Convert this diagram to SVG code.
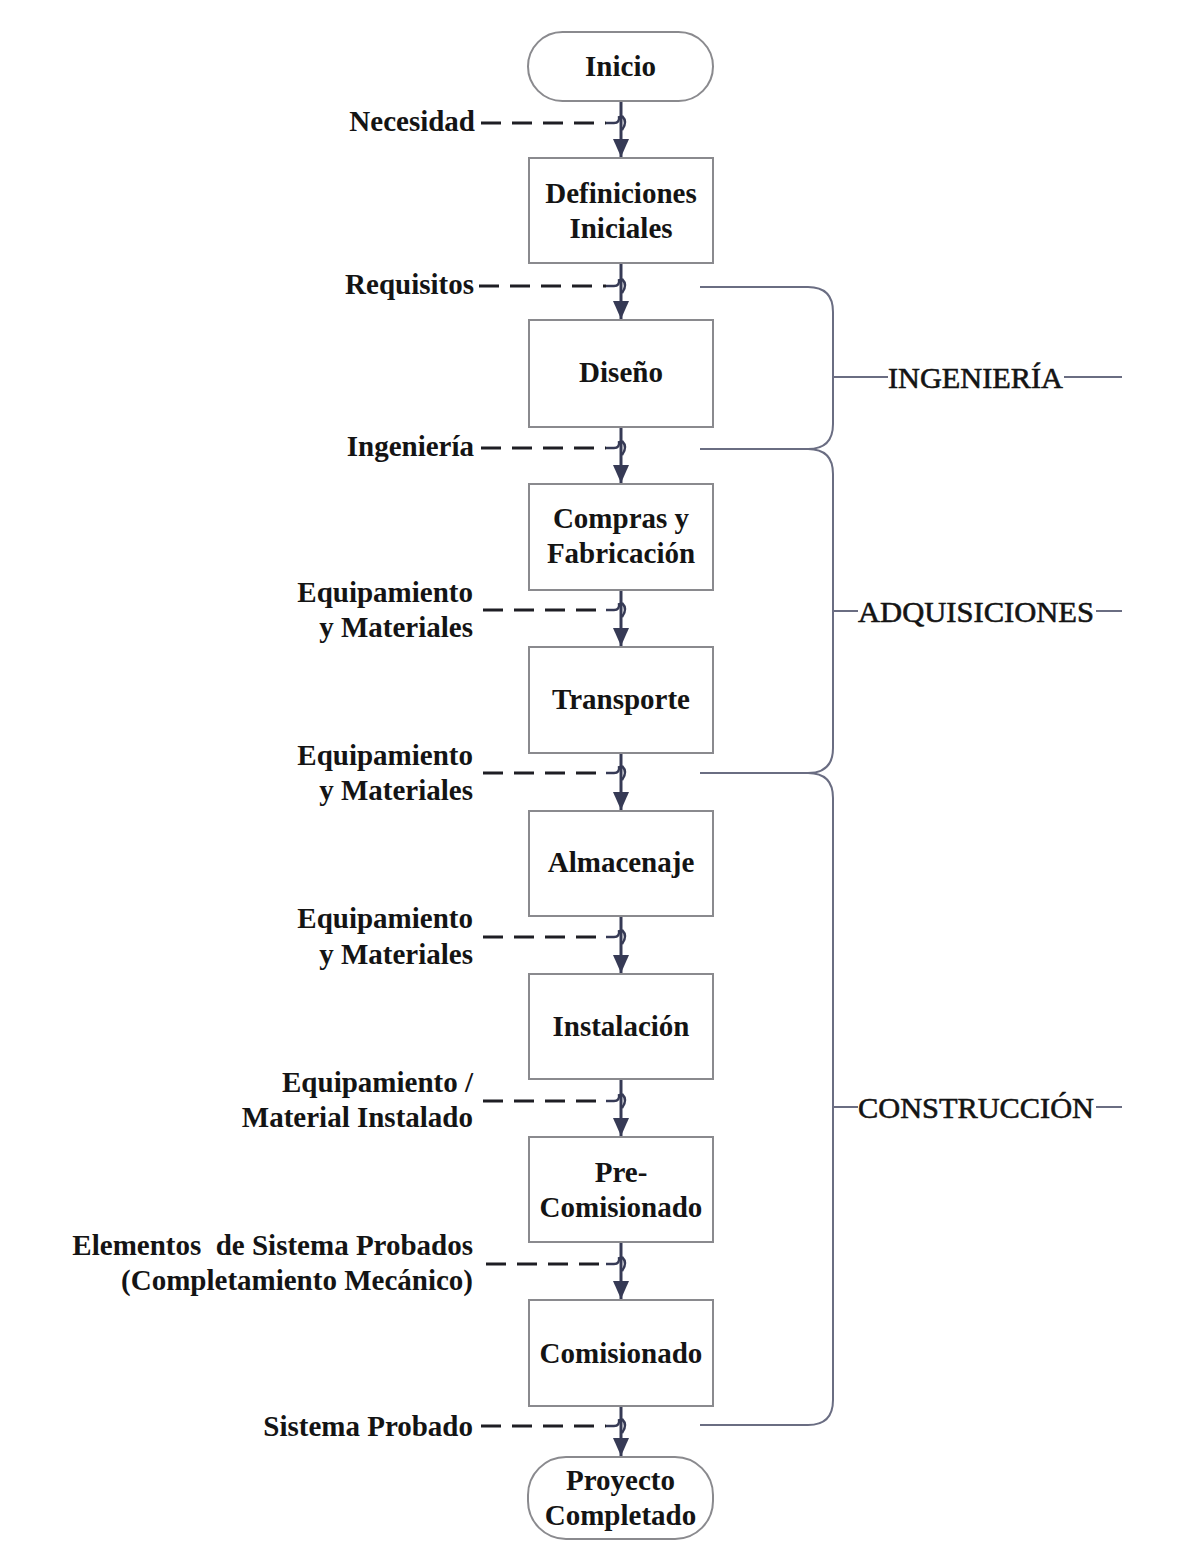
<svg xmlns="http://www.w3.org/2000/svg" width="1181" height="1541" viewBox="0 0 1181 1541">
<style>
.box{fill:#fff;stroke:#8a8a8e;stroke-width:2}
.t{font-family:"Liberation Serif","Times New Roman",serif;font-weight:bold;font-size:29px;fill:#141414;text-anchor:middle}
.l{font-family:"Liberation Serif","Times New Roman",serif;font-weight:bold;font-size:29px;fill:#141414;text-anchor:end}
.p{font-family:"Liberation Serif","Times New Roman",serif;font-size:30px;fill:#141414;stroke:#141414;stroke-width:0.6}
.flow{stroke:#363a55;stroke-width:3;fill:none}
.dash{stroke:#1e1e24;stroke-width:3;stroke-dasharray:20 11;fill:none}
.hook{stroke:#363a55;stroke-width:2.5;fill:none}
.br{stroke:#6a6d82;stroke-width:2;fill:none}
</style>
<defs>
<marker id="ah" markerWidth="18" markerHeight="16" refX="18" refY="8" orient="auto" markerUnits="userSpaceOnUse" viewBox="0 0 18 16">
<path d="M0,0 L18,8 L0,16 Z" fill="#363a55"/>
</marker>
</defs>
<rect width="1181" height="1541" fill="#fff"/>

<g id="connectors">
<path class="flow" d="M621,101 V157" marker-end="url(#ah)"/>
<path class="flow" d="M621,263 V319" marker-end="url(#ah)"/>
<path class="flow" d="M621,427 V483" marker-end="url(#ah)"/>
<path class="flow" d="M621,590 V646" marker-end="url(#ah)"/>
<path class="flow" d="M621,753 V810" marker-end="url(#ah)"/>
<path class="flow" d="M621,916 V973" marker-end="url(#ah)"/>
<path class="flow" d="M621,1079 V1136" marker-end="url(#ah)"/>
<path class="flow" d="M621,1242 V1299" marker-end="url(#ah)"/>
<path class="flow" d="M621,1406 V1456" marker-end="url(#ah)"/>
<g id="dashed-inputs">
<path class="dash" d="M481,123 H606"/>
<path class="dash" d="M479,286 H606"/>
<path class="dash" d="M481,448 H606"/>
<path class="dash" d="M483,610 H606"/>
<path class="dash" d="M483,773 H606"/>
<path class="dash" d="M483,937 H606"/>
<path class="dash" d="M483,1101 H606"/>
<path class="dash" d="M486,1264 H606"/>
<path class="dash" d="M481,1426 H606"/>
</g>
<g id="hooks">
<path class="hook" d="M606,123 H614 Q620,123 619,116 M622,116 Q628,122 622,130"/>
<path class="hook" d="M606,286 H614 Q620,286 619,279 M622,279 Q628,285 622,293"/>
<path class="hook" d="M606,448 H614 Q620,448 619,441 M622,441 Q628,447 622,455"/>
<path class="hook" d="M606,610 H614 Q620,610 619,603 M622,603 Q628,609 622,617"/>
<path class="hook" d="M606,773 H614 Q620,773 619,766 M622,766 Q628,772 622,780"/>
<path class="hook" d="M606,937 H614 Q620,937 619,930 M622,930 Q628,936 622,944"/>
<path class="hook" d="M606,1101 H614 Q620,1101 619,1094 M622,1094 Q628,1100 622,1108"/>
<path class="hook" d="M606,1264 H614 Q620,1264 619,1257 M622,1257 Q628,1263 622,1271"/>
<path class="hook" d="M606,1426 H614 Q620,1426 619,1419 M622,1419 Q628,1425 622,1433"/>
</g>
<g id="brackets">
<path class="br" d="M700,287 H808 Q833,287 833,312 V424 Q833,449 808,449 H700"/>
<path class="br" d="M808,449 Q833,449 833,474 V748 Q833,773 808,773"/>
<path class="br" d="M700,773 H808 Q833,773 833,798 V1400 Q833,1425 808,1425 H700"/>
<path class="br" d="M833,377 H888 M1064,377 H1122"/>
<path class="br" d="M833,611 H858 M1096,611 H1122"/>
<path class="br" d="M833,1107 H858 M1096,1107 H1122"/>
</g>
</g>

<g id="n-inicio"><rect class="box" x="528" y="32" width="185" height="69" rx="34.5"/><text class="t" x="620.5" y="76">Inicio</text></g>
<g id="n-definiciones"><rect class="box" x="529" y="158" width="184" height="105"/><text class="t" x="621" y="203">Definiciones</text><text class="t" x="621" y="238">Iniciales</text></g>
<g id="n-diseno"><rect class="box" x="529" y="320" width="184" height="107"/><text class="t" x="621" y="382">Diseño</text></g>
<g id="n-compras"><rect class="box" x="529" y="484" width="184" height="106"/><text class="t" x="621" y="528">Compras y</text><text class="t" x="621" y="563">Fabricación</text></g>
<g id="n-transporte"><rect class="box" x="529" y="647" width="184" height="106"/><text class="t" x="621" y="709">Transporte</text></g>
<g id="n-almacenaje"><rect class="box" x="529" y="811" width="184" height="105"/><text class="t" x="621" y="872">Almacenaje</text></g>
<g id="n-instalacion"><rect class="box" x="529" y="974" width="184" height="105"/><text class="t" x="621" y="1036">Instalación</text></g>
<g id="n-precomisionado"><rect class="box" x="529" y="1137" width="184" height="105"/><text class="t" x="621" y="1182">Pre-</text><text class="t" x="621" y="1217">Comisionado</text></g>
<g id="n-comisionado"><rect class="box" x="529" y="1300" width="184" height="106"/><text class="t" x="621" y="1363">Comisionado</text></g>
<g id="n-proyecto"><rect class="box" x="528" y="1457" width="185" height="82" rx="38"/><text class="t" x="620.5" y="1490">Proyecto</text><text class="t" x="620.5" y="1525">Completado</text></g>

<g id="input-labels">
<text class="l" x="475" y="131">Necesidad</text>
<text class="l" x="474" y="294">Requisitos</text>
<text class="l" x="474" y="456">Ingeniería</text>
<text class="l" x="473" y="602">Equipamiento</text><text class="l" x="473" y="637">y Materiales</text>
<text class="l" x="473" y="765">Equipamiento</text><text class="l" x="473" y="800">y Materiales</text>
<text class="l" x="473" y="928">Equipamiento</text><text class="l" x="473" y="964">y Materiales</text>
<text class="l" x="473" y="1092">Equipamiento /</text><text class="l" x="473" y="1127">Material Instalado</text>
<text class="l" x="473" y="1255" xml:space="preserve">Elementos  de Sistema Probados</text><text class="l" x="473" y="1290">(Completamiento Mecánico)</text>
<text class="l" x="473" y="1436">Sistema Probado</text>
</g>

<g id="phase-labels">
<text class="p" x="888" y="388" textLength="175" lengthAdjust="spacingAndGlyphs">INGENIERÍA</text>
<text class="p" x="858" y="622" textLength="236" lengthAdjust="spacingAndGlyphs">ADQUISICIONES</text>
<text class="p" x="858" y="1118" textLength="236" lengthAdjust="spacingAndGlyphs">CONSTRUCCIÓN</text>
</g>
</svg>
